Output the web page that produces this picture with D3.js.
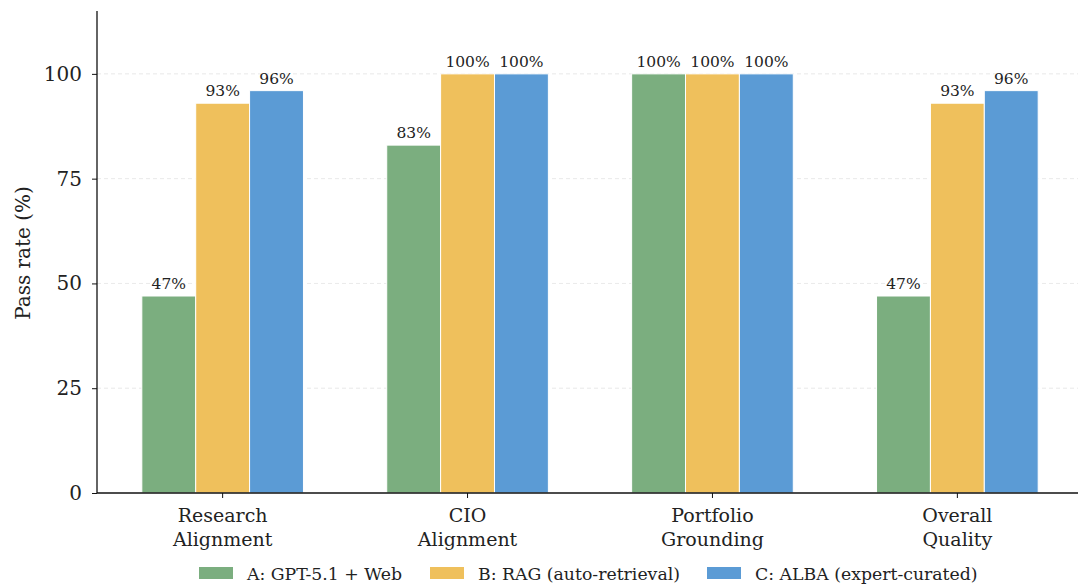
<!DOCTYPE html>
<html><head><meta charset="utf-8">
<script src="https://cdn.jsdelivr.net/npm/d3@7"></script>
<style>body{margin:0;background:#fff}svg{display:block;font-family:"DejaVu Serif",serif}</style>
</head><body><svg id="c" width="1078" height="586"></svg>
<script>
const categories = [["Research","Alignment"],["CIO","Alignment"],["Portfolio","Grounding"],["Overall","Quality"]];
const seriesNames = ["A: GPT-5.1 + Web","B: RAG (auto-retrieval)","C: ALBA (expert-curated)"];
const seriesA = [47, 83, 100, 47];
const seriesB = [93, 100, 100, 93];
const seriesC = [96, 100, 100, 96];
const colors = ["#7BAE7F","#EFC05C","#5B9BD5"];
const yTicks = [0,25,50,75,100];

const svg = d3.select("#c");
const x = d3.scaleLinear().domain([-0.513, 3.513]).range([97, 1083]);
const y = d3.scaleLinear().domain([0, 115]).range([493, 11]);
const bw = 0.22;
const series = [seriesA, seriesB, seriesC];

// grid
svg.append("g").selectAll("line").data(yTicks.slice(1)).join("line")
  .attr("x1", 97).attr("x2", 1078).attr("y1", d=>y(d)).attr("y2", d=>y(d))
  .attr("stroke","#e3e3e3").attr("stroke-width",0.8).attr("stroke-dasharray","4,3");

// bars
series.forEach((vals, si) => {
  const off = (si - 1) * bw;
  const g = svg.append("g");
  g.selectAll("rect").data(vals).join("rect")
    .attr("x", (d,i)=>x(i+off-bw/2)).attr("width", x(bw)-x(0))
    .attr("y", d=>y(d)).attr("height", d=>y(0)-y(d))
    .attr("fill", colors[si]).attr("stroke","#fff").attr("stroke-width",1);
  g.selectAll("text").data(vals).join("text")
    .attr("x",(d,i)=>x(i+off)).attr("y", d=>y(d)-7)
    .attr("text-anchor","middle").attr("font-size",15.5).attr("fill","#222")
    .text(d=>d+"%");
});

// y axis
const ya = svg.append("g").attr("transform","translate(97,0)")
  .call(d3.axisLeft(y).tickValues(yTicks).tickSize(5).tickPadding(10));
ya.select(".domain").attr("d","M0,"+y(0)+"V"+y(115)).attr("stroke","#111").attr("stroke-width",1.3);
ya.selectAll(".tick line").attr("stroke","#111").attr("stroke-width",1);
ya.selectAll(".tick text").attr("font-size",20).attr("fill","#222").attr("font-family","DejaVu Serif");

// x axis
svg.append("line").attr("x1",97).attr("x2",1078).attr("y1",y(0)).attr("y2",y(0)).attr("stroke","#111").attr("stroke-width",1.3);
const xt = svg.append("g").selectAll("g").data(categories).join("g")
  .attr("transform",(d,i)=>`translate(${x(i)},${y(0)})`);
xt.append("line").attr("y2",5).attr("stroke","#111").attr("stroke-width",1);
xt.each(function(d){
  const t = d3.select(this).append("text").attr("text-anchor","middle").attr("font-size",19).attr("fill","#222");
  d.forEach((ln,k)=>t.append("tspan").attr("x",0).attr("y",29+k*24).text(ln));
});

// y label
svg.append("text").attr("transform","translate(30,253) rotate(-90)").attr("text-anchor","middle")
  .attr("font-size",20).attr("fill","#222").text("Pass rate (%)");

// legend
const lx = [199, 430, 707];
const lg = svg.append("g").selectAll("g").data(seriesNames).join("g")
  .attr("transform",(d,i)=>`translate(${lx[i]},567)`);
lg.append("rect").attr("width",34).attr("height",12).attr("fill",(d,i)=>colors[i]);
lg.append("text").attr("x",48).attr("y",12.5).attr("font-size",17.3).attr("fill","#222").text(d=>d);
</script></body></html>
